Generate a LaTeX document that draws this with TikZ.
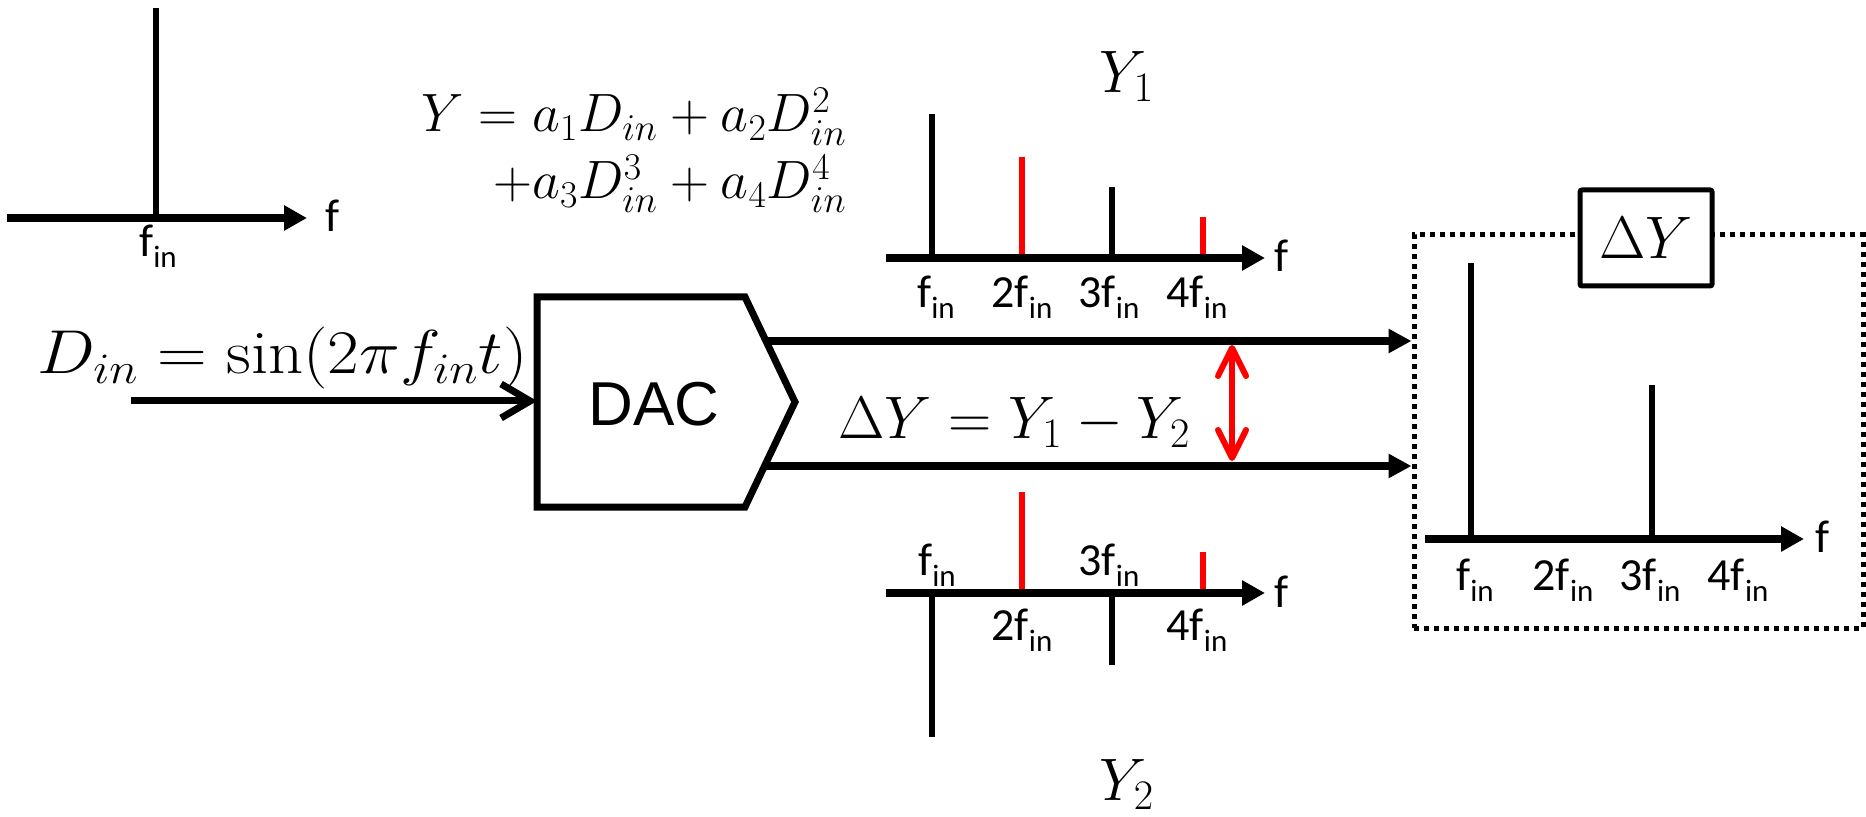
\RequirePackage{fix-cm}
\documentclass[tikz,border=0pt]{standalone}
\usepackage{amsmath}
\usepackage{fontspec}
\usetikzlibrary{arrows.meta}
\newfontfamily\califont{Carlito}
\newfontfamily\arifont{Liberation Sans}
\newcommand{\axfont}{\califont\fontsize{23}{23}\selectfont}
\newcommand{\fin}[1]{{\axfont #1f\raisebox{-5.5pt}{\fontsize{15.5}{15.5}\selectfont in}}}
\newcommand{\bigmath}{\fontsize{30}{30}\selectfont}
\tikzset{
    txt/.style={inner sep=0pt},
    axis/.style={line width=4pt, -{Triangle[length=11.5pt,width=12pt]}},
    peak/.style={line width=3pt},
    harm/.style={line width=3pt, red},
    wire/.style={line width=3.8pt, -{Triangle[length=11.5pt,width=11.5pt]}},
    inwire/.style={line width=3.5pt, -{Straight Barb[length=14.5pt,width=17pt]}},
    block/.style={line width=3.5pt, line join=miter},
    dotbox/.style={draw, line width=2.5pt, dash pattern=on 2.5pt off 2.5pt, inner sep=0pt},
    labbox/.style={draw, line width=2.5pt, fill=white, rounded corners=1pt, inner sep=0pt},
    diffarrow/.style={red, line width=3pt, line cap=round,
        {Straight Barb[length=14pt,width=14pt,round]}-{Straight Barb[length=14pt,width=14pt,round]}}
}
\begin{document}
\begin{tikzpicture}[x=0.5pt,y=-0.5pt]
\useasboundingbox (0,0) rectangle (1866,817);

% input tone
\draw[peak] (156,218) -- (156,8);
\draw[axis] (7,218) -- (307,218);
\node[txt, anchor=base] (inlab) at (158,257) {\fin{}};
\node[txt, anchor=base] (inf) at (333,232) {\axfont f};

% nonlinear model
\node[txt, anchor=base east] (polya) at (847,132) {\fontsize{27}{27}\selectfont $Y = a_1D_{in} + a_2D_{in}^2$};
\node[txt, anchor=base east] (polyb) at (847,199) {\fontsize{27}{27}\selectfont $+a_3D_{in}^3 + a_4D_{in}^4$};

% Y1 spectrum
\node[txt, anchor=base] (yone) at (1127,93) {\bigmath $Y_1$};
\foreach \x/\h/\s in {932/114/peak, 1022/157/harm, 1112/187/peak, 1203/217/harm}
    \draw[\s] (\x,258) -- (\x,\h);
\draw[axis] (886,258) -- (1265,258);
\foreach \x/\n [count=\i] in {936/, 1022/2, 1109/3, 1197/4}
    \node[txt, anchor=base] (ya\i) at (\x,308) {\fin{\n}};
\node[txt, anchor=base] (yaf) at (1281,272) {\axfont f};

% DAC
\draw[block] (537,297) -- (745,297) -- (795,402) -- (745,507) -- (537,507) -- cycle;
\node[txt] (dac) at (654,404) {\arifont\fontsize{31}{31}\selectfont DAC};
\coordinate (dacin) at (537,401);
\coordinate (dinstart) at (131,401);
\coordinate (outa) at (766,341);
\coordinate (outb) at (766,466);
\node[txt, anchor=base west] (din) at (37,374) {\fontsize{31}{31}\selectfont\scalebox{1.11}[1]{$D_{in} = \sin(2\pi f_{in}t)$}};
\draw[inwire] (dinstart) -- (dacin);

% difference
\node[txt, anchor=base west] (diffeq) at (838,438) {\bigmath $\Delta Y = Y_1 - Y_2$};
\node[dotbox, minimum width=224.5pt, minimum height=196.5pt] (dybox) at (1638.5,431.5) {};
\node[labbox, minimum width=66pt, minimum height=48pt] (dylab) at (1646,238) {\bigmath $\Delta Y$};
\coordinate (dtop) at (1232,345);
\coordinate (dbot) at (1232,461);
\draw[diffarrow] (dtop) -- (dbot);
\draw[wire] (outa) -- (outa -| dybox.west);
\draw[wire] (outb) -- (outb -| dybox.west);

% Y2 spectrum
\foreach \x/\h/\s in {932/737/peak, 1022/492/harm, 1112/665/peak, 1203/552/harm}
    \draw[\s] (\x,593) -- (\x,\h);
\draw[axis] (886,593) -- (1265,593);
\node[txt, anchor=base] (yb1) at (937,575) {\fin{}};
\node[txt, anchor=base] (yb3) at (1109,575) {\fin{3}};
\node[txt, anchor=base] (yb2) at (1022,640) {\fin{2}};
\node[txt, anchor=base] (yb4) at (1197,640) {\fin{4}};
\node[txt, anchor=base] (ybf) at (1281,607) {\axfont f};
\node[txt, anchor=base] (ytwo) at (1127,800) {\bigmath $Y_2$};

% Delta Y spectrum
\draw[peak] (1471,539) -- (1471,263);
\draw[peak] (1652,539) -- (1652,385);
\draw[axis] (1425,539) -- (1804,539);
\foreach \x/\n [count=\i] in {1475/, 1563/2, 1650/3, 1738/4}
    \node[txt, anchor=base] (yc\i) at (\x,590) {\fin{\n}};
\node[txt, anchor=base] (ycf) at (1822,552) {\axfont f};
\end{tikzpicture}
\end{document}
